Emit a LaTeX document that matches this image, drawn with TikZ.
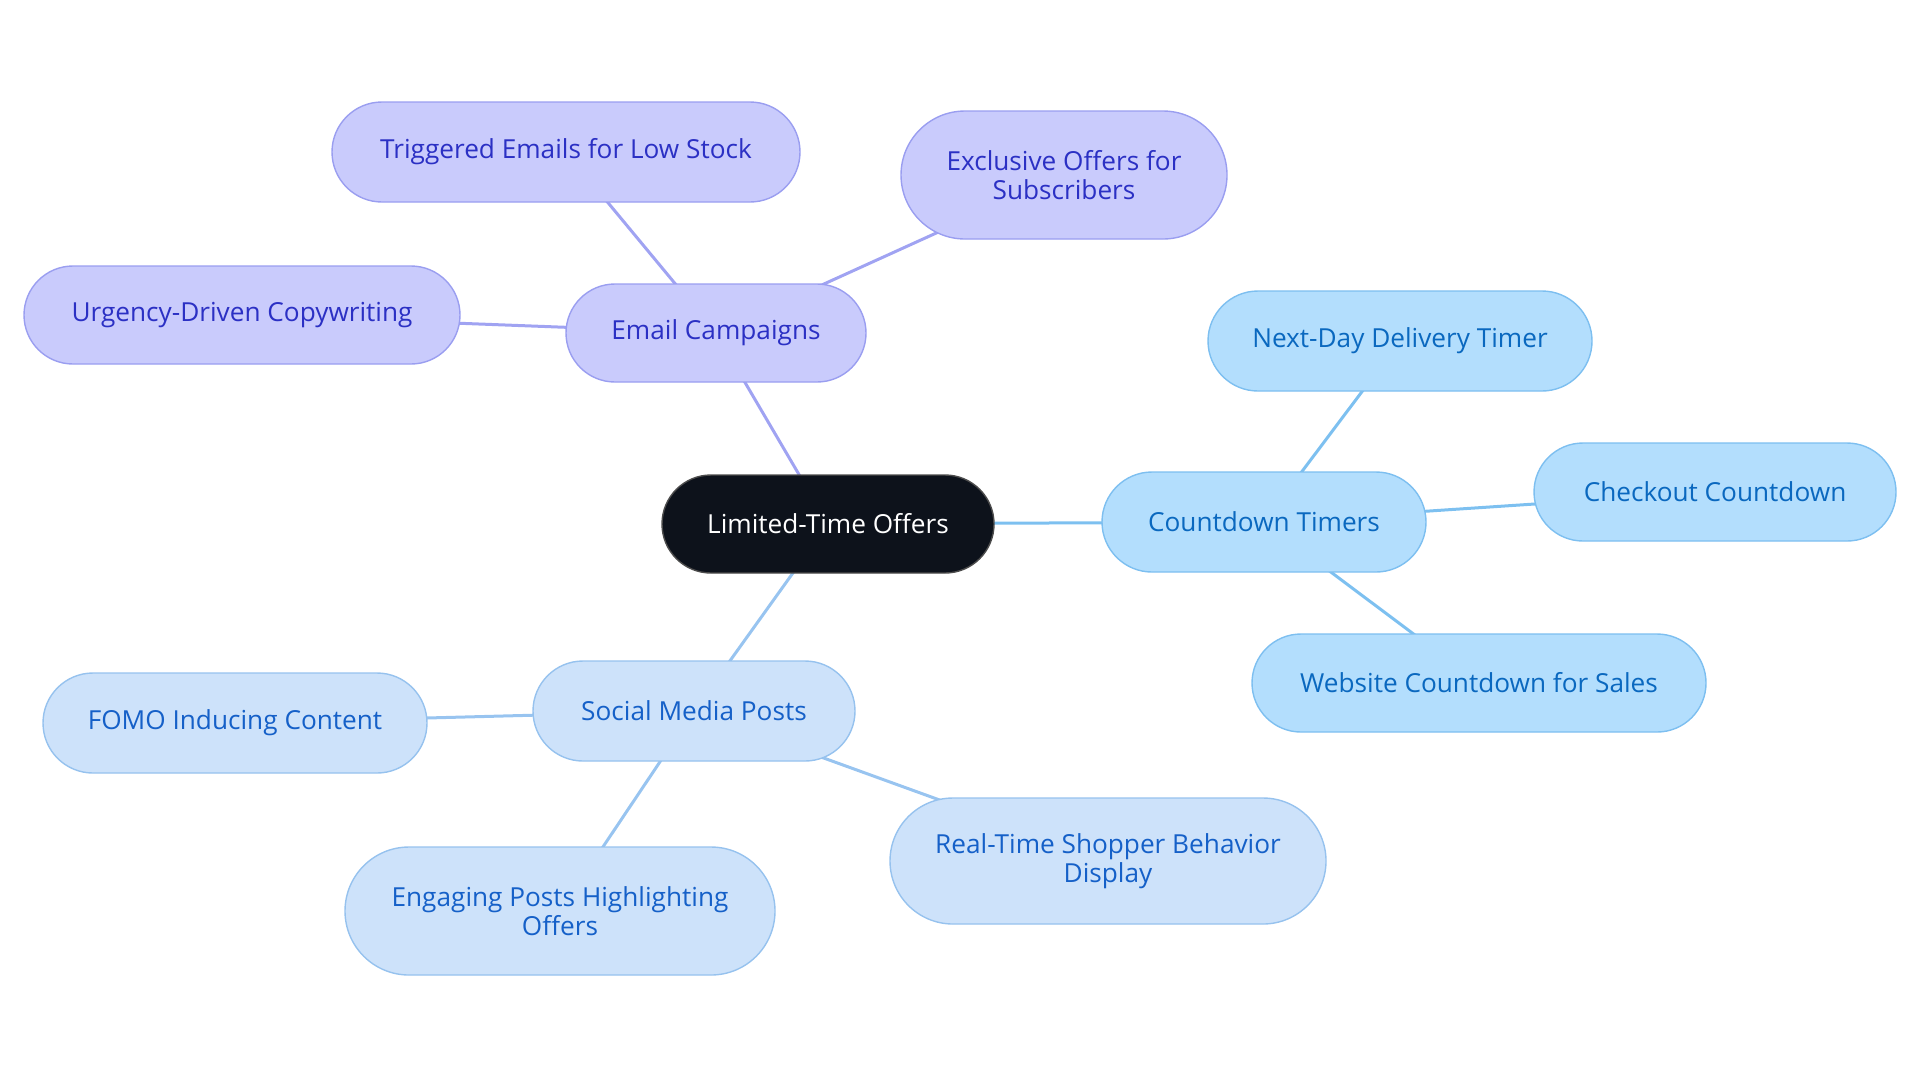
\documentclass[tikz,border=0pt]{standalone}
\usepackage{fontspec}
\setmainfont{Open Sans}
\usetikzlibrary{shapes.misc,backgrounds}
\definecolor{pfill}{HTML}{C9CBFC}
\definecolor{pdraw}{HTML}{9A9EF0}
\definecolor{ptext}{HTML}{2B30C4}
\definecolor{pedge}{HTML}{A0A3F2}
\definecolor{cfill}{HTML}{B3DEFD}
\definecolor{cdraw}{HTML}{7DBFF0}
\definecolor{ctext}{HTML}{0A68BF}
\definecolor{cedge}{HTML}{7DC0F0}
\definecolor{sfill}{HTML}{CDE2FA}
\definecolor{sdraw}{HTML}{96C2EE}
\definecolor{stext}{HTML}{1560C8}
\definecolor{sedge}{HTML}{98C4F0}
\definecolor{rootfill}{HTML}{0D121B}
\tikzset{
  base/.style={rounded rectangle, line width=0.7pt, font=\fontsize{13.1}{14.5}\selectfont, align=center, inner sep=0pt},
  rootnode/.style={base, fill=rootfill, draw=black!70, text=white},
  pnode/.style={base, fill=pfill, draw=pdraw, text=ptext},
  cnode/.style={base, fill=cfill, draw=cdraw, text=ctext},
  snode/.style={base, fill=sfill, draw=sdraw, text=stext},
  pline/.style={draw=pedge, line width=1.5pt},
  cline/.style={draw=cedge, line width=1.5pt},
  sline/.style={draw=sedge, line width=1.5pt},
}
\begin{document}
\begin{tikzpicture}[x=0.5pt,y=-0.5pt]
\useasboundingbox (0,0) rectangle (1920,1083);
\node[rootnode, minimum width=166pt, minimum height=49pt] (root) at (828,524) {Limited-Time Offers};
\node[pnode, minimum width=150pt, minimum height=49pt] (email) at (716,333) {Email Campaigns};
\node[pnode, minimum width=234pt, minimum height=50pt] (trig) at (566,152) {Triggered Emails for Low Stock};
\node[pnode, minimum width=163pt, minimum height=64pt] (excl) at (1064,175) {Exclusive Offers for\\Subscribers};
\node[pnode, minimum width=218pt, minimum height=49pt] (urg) at (242,315) {Urgency-Driven Copywriting};
\node[cnode, minimum width=162pt, minimum height=50pt] (count) at (1264,522) {Countdown Timers};
\node[cnode, minimum width=192pt, minimum height=50pt] (next) at (1400,341) {Next-Day Delivery Timer};
\node[cnode, minimum width=181pt, minimum height=49pt] (check) at (1715,492) {Checkout Countdown};
\node[cnode, minimum width=227pt, minimum height=49pt] (web) at (1479,683) {Website Countdown for Sales};
\node[snode, minimum width=161pt, minimum height=50pt] (social) at (694,711) {Social Media Posts};
\node[snode, minimum width=192pt, minimum height=50pt] (fomo) at (235,723) {FOMO Inducing Content};
\node[snode, minimum width=215pt, minimum height=64pt] (eng) at (560,911) {Engaging Posts Highlighting\\Offers};
\node[snode, minimum width=218pt, minimum height=63pt] (real) at (1108,861) {Real-Time Shopper Behavior\\Display};
\begin{scope}[on background layer]
\draw[pline] (root.center) -- (email.center);
\draw[pline] (email.center) -- (trig.center);
\draw[pline] (email.center) -- (excl.center);
\draw[pline] (email.center) -- (urg.center);
\draw[cline] (root.center) -- (count.center);
\draw[cline] (count.center) -- (next.center);
\draw[cline] (count.center) -- (check.center);
\draw[cline] (count.center) -- (web.center);
\draw[sline] (root.center) -- (social.center);
\draw[sline] (social.center) -- (fomo.center);
\draw[sline] (social.center) -- (eng.center);
\draw[sline] (social.center) -- (real.center);
\end{scope}
\end{tikzpicture}
\end{document}
